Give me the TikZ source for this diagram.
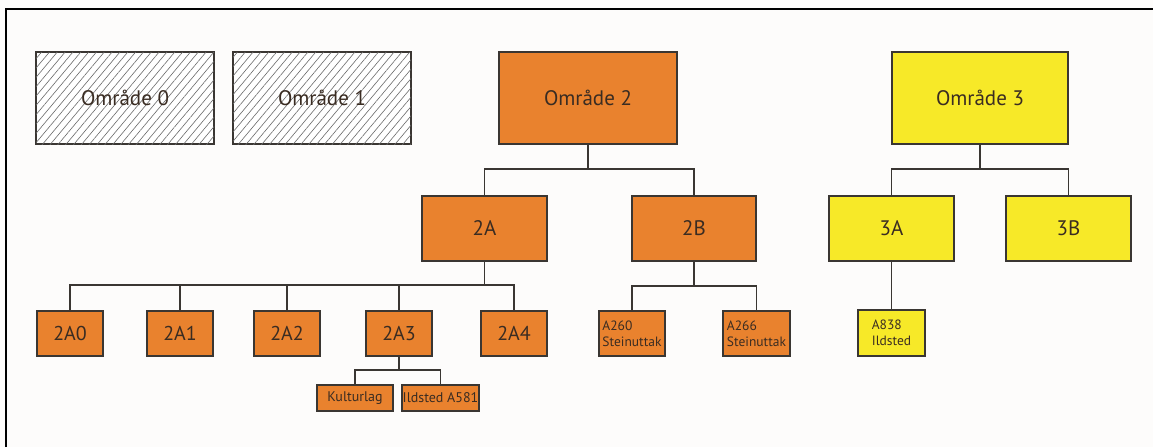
\documentclass[tikz,border=0pt]{standalone}
\usepackage{fontspec}
\setmainfont{PT Sans}
\usetikzlibrary{patterns.meta}
\definecolor{orng}{HTML}{E9822E}
\definecolor{yelw}{HTML}{F7E928}
\definecolor{edge}{HTML}{3A3632}
\definecolor{txt}{HTML}{3A2C22}
\definecolor{hatch}{HTML}{6A6A6A}
\definecolor{bg}{HTML}{FDFCFB}
\tikzset{
  box/.style={draw=edge, line width=1.6pt, inner sep=0pt, text=txt, align=center},
  big/.style={box, minimum width=178pt, minimum height=92pt, font=\fontsize{21}{24}\selectfont},
  mid/.style={box, minimum width=125pt, minimum height=65pt, font=\fontsize{21}{24}\selectfont},
  leaf/.style={box, minimum width=66pt, minimum height=45pt, font=\fontsize{20}{23}\selectfont},
  tiny/.style={box, minimum width=66pt, minimum height=45pt, align=left, font=\fontsize{13.5}{16}\selectfont},
  twig/.style={box, minimum height=26pt, font=\fontsize{14}{16}\selectfont},
  hatched/.style={big, fill=white, postaction={pattern={Lines[angle=50,distance=6pt,line width=0.6pt]}, pattern color=hatch}},
  link/.style={draw=edge, line width=1.6pt},
}
\begin{document}
\begin{tikzpicture}[x=1pt,y=-1pt]
\fill[bg] (0,0) rectangle (1153,447);
\useasboundingbox (0,0) rectangle (1153,447);
\draw[line width=2pt, black] (6,447) -- (6,9) -- (1153,9);

\node[hatched] (o0) at (125,98) {Område 0};
\node[hatched] (o1) at (322,98) {Område 1};
\node[big, fill=orng] (o2) at (588,98) {Område 2};
\node[big, fill=yelw, minimum width=176pt] (o3) at (980,98) {Område 3};

\node[mid, fill=orng] (a) at (484.5,228.5) {2A};
\node[mid, fill=orng, minimum width=124pt] (b) at (694,228.5) {2B};
\node[mid, fill=yelw] (c) at (891.5,228.5) {3A};
\node[mid, fill=yelw] (d) at (1068.5,228.5) {3B};

\node[leaf, fill=orng] (a0) at (70,333.5) {2A0};
\node[leaf, fill=orng] (a1) at (180,333.5) {2A1};
\node[leaf, fill=orng] (a2) at (287,333.5) {2A2};
\node[leaf, fill=orng] (a3) at (399,333.5) {2A3};
\node[leaf, fill=orng] (a4) at (514,333.5) {2A4};

\node[tiny, fill=orng] (b0) at (632,333.5) {A260\\Steinuttak};
\node[tiny, fill=orng, minimum width=67pt] (b1) at (756.5,333.5) {A266\\Steinuttak};
\node[tiny, fill=yelw, minimum width=67pt, minimum height=46pt] (c0) at (891.5,333) {A838\\Ildsted};

\node[twig, fill=orng, minimum width=76pt] (k) at (355,398) {Kulturlag};
\node[twig, fill=orng, minimum width=77pt] (i) at (440.5,398) {Ildsted A581};

\coordinate (j2) at (588,169);
\coordinate (j3) at (980,169);
\coordinate (ja) at (484.5,285);
\coordinate (jb) at (694,286);
\coordinate (ja3) at (399,370);

\draw[link] (o2.south) -- (j2);
\draw[link] (a.north) |- (j2) -| (b.north);
\draw[link] (o3.south) -- (j3);
\draw[link] (c.north) |- (j3) -| (d.north);

\draw[link] (a.south) -- (ja);
\draw[link] (a0.north) |- (ja) -| (a4.north);
\draw[link] (a1.north) -- (a1.north |- ja);
\draw[link] (a2.north) -- (a2.north |- ja);
\draw[link] (a3.north) -- (a3.north |- ja);

\draw[link] (b.south) -- (jb);
\draw[link] (b0.north) |- (jb) -| (b1.north);

\draw[link] (c.south) -- (c0.north);

\draw[link] (a3.south) -- (ja3);
\draw[link] (k.north) |- (ja3) -| (i.north);
\end{tikzpicture}
\end{document}
